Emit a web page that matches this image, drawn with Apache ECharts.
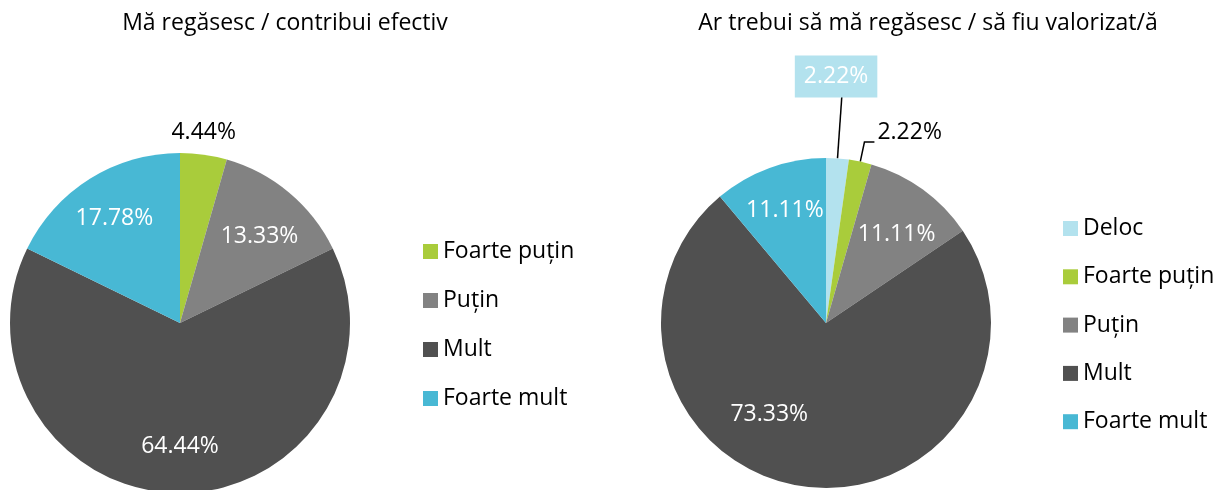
<!DOCTYPE html>
<html>
<head>
<meta charset="utf-8">
<script src="https://cdn.jsdelivr.net/npm/echarts@6/dist/echarts.min.js"></script>
<style>
  html, body { margin: 0; padding: 0; background: #fff; }
  #chart { width: 1230px; height: 490px; }
</style>
</head>
<body>
<div id="chart"></div>
<script>
// date
const leftTitle = "Mă regăsesc / contribui efectiv"
const rightTitle = "Ar trebui să mă regăsesc / să fiu valorizat/ă"
const leftNames = ["Foarte puțin", "Puțin", "Mult", "Foarte mult"]
const leftValues = [4.44, 13.33, 64.44, 17.78]
const rightNames = ["Deloc", "Foarte puțin", "Puțin", "Mult", "Foarte mult"]
const rightValues = [2.22, 2.22, 11.11, 73.33, 11.11]

const colors = {
  "Deloc": "#B3E2EE",
  "Foarte puțin": "#A9CC3B",
  "Puțin": "#828282",
  "Mult": "#505050",
  "Foarte mult": "#48B8D4"
}
const font = "'Open Sans', sans-serif"
const fs = 23
const fmt = p => p.value.toFixed(2) + "%"

// etichete exterioare (index -> stil)
const leftOutside = { 0: { label: { color: "#000" }, labelLine: { show: false, length: 6, length2: 0 } } }
const rightOutside = {
  0: {
    label: { color: "#fff", backgroundColor: "#B3E2EE", padding: [10, 9, 9, 9] },
    labelLine: { show: true, length: 62, length2: 0 }
  },
  1: { label: { color: "#000" }, labelLine: { show: true, length: 20, length2: 10 } }
}

function baseData(names, values, outside) {
  return names.map((n, i) => {
    const o = outside[i]
    return {
      name: n,
      value: values[i],
      itemStyle: { color: colors[n] },
      label: o ? Object.assign({ show: true, position: "outside" }, o.label) : { show: false },
      labelLine: o ? Object.assign({ lineStyle: { color: "#000", width: 1.5 } }, o.labelLine) : { show: false }
    }
  })
}
function ringData(names, values, outside) {
  return names.map((n, i) => ({
    name: n,
    value: values[i],
    label: { show: !outside[i] }
  }))
}

const labelStyle = { fontSize: fs, fontFamily: font, formatter: fmt }

function pieBase(center, r, names, values, outside, layout) {
  return {
    type: "pie",
    center: center,
    radius: r,
    startAngle: 90,
    clockwise: true,
    avoidLabelOverlap: false,
    itemStyle: { borderWidth: 0 },
    label: Object.assign({}, labelStyle),
    emphasis: { disabled: true },
    labelLayout: layout,
    data: baseData(names, values, outside)
  }
}
function pieRing(center, r, names, values, outside, layout) {
  return {
    type: "pie",
    center: center,
    radius: [r * 0.42, r],
    startAngle: 90,
    clockwise: true,
    silent: true,
    avoidLabelOverlap: false,
    itemStyle: { color: "rgba(0,0,0,0)", borderWidth: 0 },
    label: Object.assign({ position: "inside", color: "#fff" }, labelStyle),
    labelLine: { show: false },
    emphasis: { disabled: true },
    labelLayout: layout,
    data: ringData(names, values, outside)
  }
}

const titleStyle = { fontSize: fs, fontWeight: "normal", fontFamily: font, color: "#000" }
const legendText = { fontSize: fs, fontFamily: font, color: "#000" }

const option = {
  animation: false,
  title: [
    { text: leftTitle, left: 280, top: 7, textAlign: "center", textStyle: titleStyle },
    { text: rightTitle, left: 923, top: 7, textAlign: "center", textStyle: titleStyle }
  ],
  legend: [
    { data: leftNames, orient: "vertical", left: 418, top: 235, itemGap: 26,
      itemWidth: 15, itemHeight: 15, icon: "rect", selectedMode: false, textStyle: legendText },
    { data: rightNames, orient: "vertical", left: 1058, top: 212, itemGap: 25.3,
      itemWidth: 15, itemHeight: 15, icon: "rect", selectedMode: false, textStyle: legendText }
  ],
  series: [
    pieBase([180, 323], 170, leftNames, leftValues, leftOutside,
      p => p.dataIndex === 0 ? { dx: -38, dy: -16 } : {}),
    pieRing([180, 323], 170, leftNames, leftValues, leftOutside,
      p => p.dataIndex === 1 ? { dy: 8 } : {}),
    pieBase([826, 323], 165, rightNames, rightValues, rightOutside,
      p => p.dataIndex === 0 ? { dx: -52, dy: -20 } : (p.dataIndex === 1 ? { dx: -2, dy: -10 } : {})),
    pieRing([826, 323], 165, rightNames, rightValues, rightOutside,
      p => p.dataIndex === 3 ? { dx: -40, dy: -28 } : (p.dataIndex === 2 ? { dy: 9 } : {}))
  ]
}

const chart = echarts.init(document.getElementById("chart"))
chart.setOption(option)
window.addEventListener("resize", function () {
  chart.resize()
})
</script>
</body>
</html>
